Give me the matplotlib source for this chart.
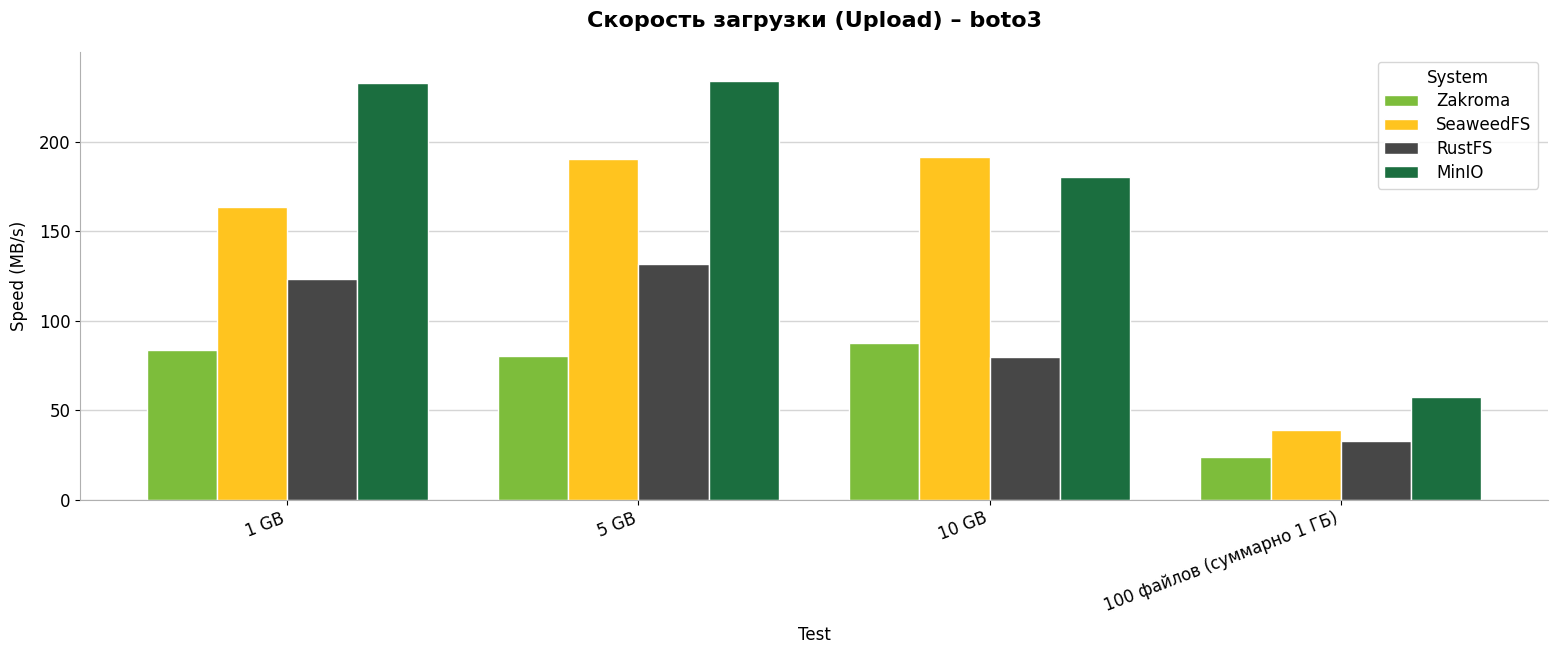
import numpy as np
import matplotlib
matplotlib.use("Agg")
import matplotlib.pyplot as plt

tests = ["1 GB", "5 GB", "10 GB", "100 файлов (суммарно 1 ГБ)"]
systems = ["Zakroma", "SeaweedFS", "RustFS", "MinIO"]
zakroma = [83.6, 80.3, 87.6, 23.8]
seaweedfs = [163.6, 190.0, 191.6, 38.9]
rustfs = [123.4, 131.7, 79.7, 32.7]
minio = [233.0, 234.1, 180.4, 57.3]
colors = ["#7dbd3b", "#ffc41f", "#474747", "#1b6e3f"]

series = [zakroma, seaweedfs, rustfs, minio]

fig = plt.figure(figsize=(15.6, 6.51), dpi=100)
ax = fig.add_axes([0.0513, 0.2327, 0.941, 0.6873])

x = np.arange(len(tests))
width = 0.8 / len(systems)
for i, (name, vals) in enumerate(zip(systems, series)):
    offs = (i - (len(systems) - 1) / 2) * width
    ax.bar(x + offs, vals, width, color=colors[i], edgecolor="white",
           linewidth=1, label=name, zorder=2)

ax.set_xlim(-0.59, 3.59)
ax.set_ylim(0, 250)
ax.set_yticks([0, 50, 100, 150, 200])
ax.set_xticks(x)
ax.set_xticklabels(tests, rotation=21, ha="right", fontsize=12)
ax.tick_params(axis="y", labelsize=12)
ax.yaxis.grid(True, color="#d5d5d5", linewidth=1, zorder=0)
ax.set_axisbelow(True)
for s in ["top", "right"]:
    ax.spines[s].set_visible(False)
for s in ["left", "bottom"]:
    ax.spines[s].set_color("#b0b0b0")
ax.set_xlabel("Test", fontsize=12, labelpad=8)
ax.set_ylabel("Speed (MB/s)", fontsize=12, labelpad=8)
ax.set_title("Скорость загрузки (Upload) – boto3", fontsize=16,
             fontweight="bold", pad=18)
ax.legend(title="System", loc="upper right", fontsize=12, title_fontsize=12,
          bbox_to_anchor=(0.9932, 0.978), borderaxespad=0,
          labelspacing=0.35, handletextpad=1.1)

fig.savefig("out.png", dpi=100)
